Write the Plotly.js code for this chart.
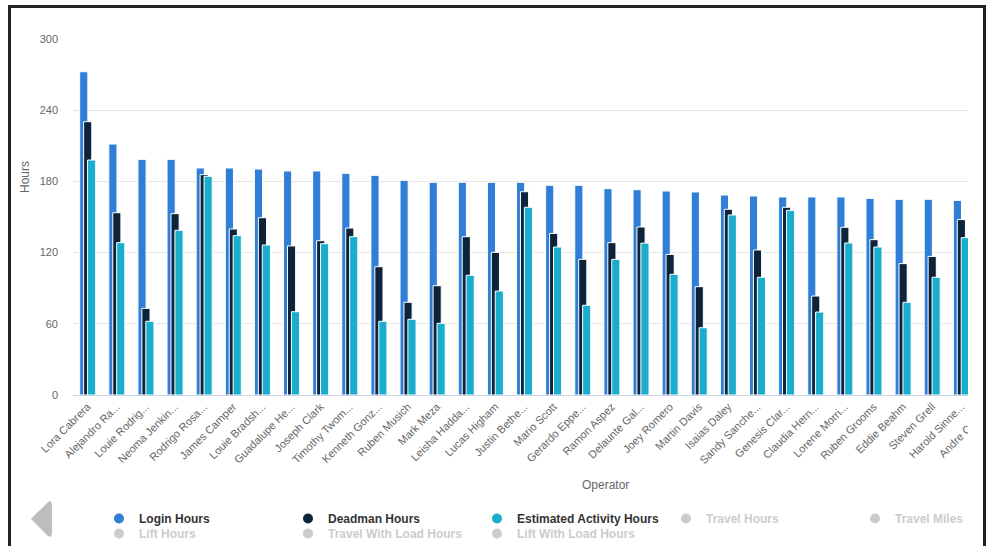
<!DOCTYPE html>
<html>
<head>
<meta charset="utf-8">
<script src="https://cdn.plot.ly/plotly-3.0.1.min.js"></script>
<style>
  html, body { margin: 0; padding: 0; background: #fff; overflow: hidden; width: 987px; height: 546px; }
  /* scrollable plot window: everything past the right edge is cut off */
  #clip { position: absolute; left: 0; top: 0; width: 968px; height: 546px; overflow: hidden; }
  #chart { width: 1040px; height: 546px; }
  #frame { position: absolute; left: 8px; top: 5px; width: 972px; height: 600px;
           border: 3px solid #222; border-bottom: none; pointer-events: none; }
</style>
</head>
<body>
<div id="clip"><div id="chart"></div></div>
<div id="frame"></div>
<script>
// Operators, in descending order of login hours
const operators = [
  "Lora Cabrera", "Alejandro Ra...", "Louie Rodrig...", "Neoma Jenkin...", "Rodrigo Rosa...",
  "James Camper", "Louie Bradsh...", "Guadalupe He...", "Joseph Clark", "Timothy Twom...",
  "Kenneth Gonz...", "Ruben Musich", "Mark Meza", "Leisha Hadda...", "Lucas Higham",
  "Justin Bethe...", "Mario Scott", "Gerardo Eppe...", "Ramon Aspez", "Delaunte Gal...",
  "Joey Romero", "Martin Davis", "Isaias Daley", "Sandy Sanche...", "Genesis Clar...",
  "Claudia Hern...", "Lorene Morri...", "Ruben Grooms", "Eddie Beahm", "Steven Grell",
  "Harold Sinne...", "Andre Carde..."
];

const loginHours = [
  272.4, 211.5, 198.6, 198.6, 191.3, 191.3, 190.4, 188.8, 188.8, 186.8,
  185.1, 180.9, 179.2, 179.2, 179.2, 179.2, 176.7, 176.7, 173.9, 173.0,
  171.9, 171.1, 168.5, 167.7, 166.9, 166.9, 166.9, 165.7, 164.9, 164.9,
  164.0, null
];

const deadmanHours = [
  230.3, 153.6, 73.0, 152.8, 185.7, 139.9, 149.4, 125.6, 130.0, 140.7,
  108.1, 78.1, 92.1, 133.4, 120.2, 171.3, 136.2, 114.3, 128.4, 141.6,
  118.5, 91.3, 156.5, 122.2, 158.2, 83.4, 141.3, 130.9, 110.7, 116.8,
  147.8, null
];

const activityHours = [
  198.0, 128.4, 62.1, 138.8, 184.3, 134.3, 126.4, 70.2, 127.5, 133.4,
  62.1, 63.8, 60.4, 100.9, 87.6, 158.2, 124.7, 75.6, 114.3, 128.0,
  101.7, 56.7, 151.7, 99.2, 155.6, 69.9, 128.1, 124.7, 78.1, 99.2,
  132.6, null
];

const yTicks = [0, 60, 120, 180, 240, 300];

// Series switched off in the legend (first row / second row)
const hiddenRow1 = ["Travel Hours", "Travel Miles"];
const hiddenRow2 = ["Lift Hours", "Travel With Load Hours", "Lift With Load Hours"];

const COLORS = { login: "#2f7ed8", deadman: "#0d233a", activity: "#1aadce", off: "#cccccc" };
const FONT = "'Liberation Sans', Arial, Helvetica, sans-serif";

// figure geometry (px) and helpers to place decorations in paper space
const W = 1040, H = 546;
const M = { l: 73, r: 6, t: 39, b: 151 };
const plotW = W - M.l - M.r, plotH = H - M.t - M.b;
const px = x => (x - M.l) / plotW;
const py = y => (H - M.b - y) / plotH;

const BAR_W = 0.28;

function barTrace(name, group, color, values, offset) {
  return {
    type: "bar", x: operators, y: values, name: name, legendgroup: group,
    showlegend: false, width: BAR_W, offset: offset,
    marker: { color: color, line: { color: "#ffffff", width: 1 } },
    hovertemplate: "%{x}<br>" + name + ": %{y}<extra></extra>"
  };
}

function legendTrace(name, group, color, legendId, label) {
  return {
    type: "scatter", mode: "markers", x: [null], y: [null],
    name: label || name, legendgroup: group, legend: legendId,
    showlegend: true, hoverinfo: "skip",
    marker: { color: color, size: 10, symbol: "circle" }
  };
}

const offLabel = s => '<span style="color:#cccccc">' + s + "</span>";

const traces = [
  barTrace("Login Hours", "login", COLORS.login, loginHours, -0.27),
  barTrace("Deadman Hours", "deadman", COLORS.deadman, deadmanHours, -0.135),
  barTrace("Estimated Activity Hours", "activity", COLORS.activity, activityHours, 0.0),
  legendTrace("Login Hours", "login", COLORS.login, "legend"),
  legendTrace("Deadman Hours", "deadman", COLORS.deadman, "legend"),
  legendTrace("Estimated Activity Hours", "activity", COLORS.activity, "legend")
];
hiddenRow1.forEach(s => traces.push(legendTrace(s, s, COLORS.off, "legend", offLabel(s))));
hiddenRow2.forEach(s => traces.push(legendTrace(s, s, COLORS.off, "legend2", offLabel(s))));

// left-pointing scroll arrow with softened corners
function arrowPath() {
  const pts = [[33, 517], [48, 502], [51, 501], [52, 505], [52, 533], [51, 537], [48, 536], [33, 521], [31, 519]];
  return pts.map((p, i) => (i ? "L" : "M") + px(p[0]).toFixed(5) + "," + py(p[1]).toFixed(5)).join(" ") + " Z";
}

function legendRow(topPx) {
  return {
    orientation: "h", xref: "paper", yref: "paper",
    x: px(99), y: py(topPx), xanchor: "left", yanchor: "top",
    entrywidth: 144, entrywidthmode: "pixels",
    bgcolor: "rgba(0,0,0,0)", borderwidth: 0,
    font: { family: FONT, size: 12, color: "#333333", weight: "bold" }
  };
}

const layout = {
  width: W, height: H,
  margin: { l: M.l, r: M.r, t: M.t, b: M.b, pad: 0, autoexpand: false },
  paper_bgcolor: "#ffffff", plot_bgcolor: "#ffffff",
  barmode: "overlay",
  font: { family: FONT, size: 11, color: "#666666" },
  xaxis: {
    type: "category", categoryorder: "array", categoryarray: operators,
    range: [-0.5, 32.5], fixedrange: true,
    showgrid: false, zeroline: false,
    showline: true, linecolor: "#ccd6eb", linewidth: 1,
    ticks: "", tickangle: -45, automargin: false,
    tickfont: { family: FONT, size: 11, color: "#666666" }
  },
  yaxis: {
    range: [0, 300], tickvals: yTicks, ticktext: yTicks.map(String),
    showgrid: true, gridcolor: "#e6e6e6", gridwidth: 1, zeroline: false,
    showline: false, ticks: "", ticklabelstandoff: 14, automargin: false,
    tickfont: { family: FONT, size: 11, color: "#666666" }
  },
  showlegend: true,
  legend: legendRow(504),
  legend2: legendRow(519),
  annotations: [
    { text: "Hours", xref: "paper", yref: "paper", x: px(25), y: py(177), textangle: -90,
      showarrow: false, xanchor: "center", yanchor: "middle",
      font: { family: FONT, size: 12, color: "#666666" } },
    { text: "Operator", xref: "paper", yref: "paper", x: px(605), y: py(485),
      showarrow: false, xanchor: "center", yanchor: "middle",
      font: { family: FONT, size: 12, color: "#666666" } }
  ],
  shapes: [
    { type: "path", xref: "paper", yref: "paper", path: arrowPath(),
      fillcolor: "#bdbdbd", line: { width: 0 }, layer: "above" }
  ]
};

Plotly.newPlot("chart", traces, layout, { displayModeBar: false, responsive: false });
</script>
</body>
</html>
